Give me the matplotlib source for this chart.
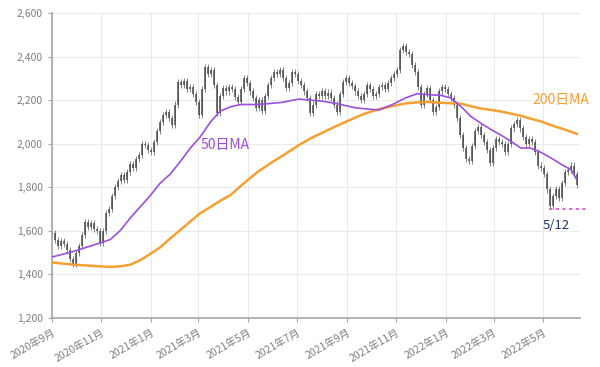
import numpy as np
import pandas as pd
import matplotlib
matplotlib.use("Agg")
import matplotlib.pyplot as plt
import matplotlib.dates as mdates
from matplotlib.ticker import StrMethodFormatter

plt.rcParams["font.family"] = ["Noto Sans CJK JP", "DejaVu Sans"]

close = [1590, 1560, 1530, 1555, 1540, 1510, 1470, 1450, 1500, 1530, 1580, 1640,
         1620, 1635, 1610, 1600, 1545, 1600, 1680, 1700, 1760, 1800, 1830, 1855,
         1835, 1870, 1905, 1890, 1930, 1950, 2000, 1995, 1970, 1960, 2010, 2060,
         2100, 2130, 2145, 2120, 2085, 2180, 2285, 2270, 2290, 2250, 2260, 2230,
         2190, 2130, 2250, 2350, 2320, 2340, 2270, 2140, 2220, 2255, 2240, 2260,
         2250, 2215, 2190, 2250, 2300, 2280, 2240, 2210, 2165, 2200, 2150, 2220,
         2270, 2300, 2330, 2320, 2340, 2300, 2255, 2280, 2330, 2320, 2290, 2270,
         2240, 2210, 2140, 2180, 2230, 2220, 2240, 2220, 2235, 2210, 2180, 2145,
         2230, 2285, 2300, 2280, 2265, 2240, 2220, 2200, 2230, 2270, 2250, 2220,
         2230, 2260, 2270, 2250, 2280, 2300, 2320, 2340, 2430, 2450, 2420, 2410,
         2360, 2330, 2260, 2180, 2230, 2255, 2200, 2145, 2170, 2240, 2260, 2250,
         2230, 2210, 2180, 2120, 2040, 1980, 1930, 1920, 1990, 2060, 2075, 2040,
         2010, 1970, 1910, 1980, 2020, 2010, 2000, 1960, 2000, 2070, 2090, 2110,
         2070, 2030, 2000, 2020, 2010, 1960, 1900, 1890, 1860, 1790, 1715, 1760,
         1790, 1750, 1820, 1870, 1880, 1900, 1860, 1810]
price_start = "2020-09-01"
price_end = "2022-06-12"
wick = 14  # typical wick length beyond the body

# moving averages
ma_dates = ["2020-09-01", "2020-09-27", "2020-10-18", "2020-10-31", "2020-11-12",
            "2020-11-24", "2020-12-07", "2020-12-19", "2020-12-31", "2021-01-13",
            "2021-01-25", "2021-02-07", "2021-02-19", "2021-03-03", "2021-03-16",
            "2021-03-28", "2021-04-10", "2021-04-22", "2021-05-13", "2021-05-29",
            "2021-06-13", "2021-07-03", "2021-07-18", "2021-08-02", "2021-08-18",
            "2021-08-30", "2021-09-11", "2021-09-24", "2021-10-10", "2021-10-27",
            "2021-11-12", "2021-11-27", "2021-12-11", "2021-12-26", "2022-01-07",
            "2022-01-20", "2022-02-01", "2022-02-13", "2022-02-26", "2022-03-10",
            "2022-03-23", "2022-04-04", "2022-04-16", "2022-04-29", "2022-05-11",
            "2022-05-24", "2022-06-05", "2022-06-12"]
ma50 = [1480, 1505, 1530, 1545, 1560, 1600, 1660, 1710, 1760, 1820, 1860, 1920,
        1980, 2030, 2100, 2150, 2170, 2180, 2180, 2185, 2190, 2205, 2200, 2195,
        2185, 2175, 2165, 2160, 2155, 2180, 2210, 2230, 2225, 2222, 2210, 2170,
        2125, 2095, 2065, 2040, 2010, 1980, 1980, 1960, 1935, 1905, 1880, 1835]
ma200 = [1455, 1445, 1440, 1437, 1435, 1437, 1445, 1465, 1493, 1525, 1565, 1605,
         1643, 1680, 1710, 1738, 1765, 1805, 1870, 1910, 1945, 1993, 2025, 2052,
         2080, 2100, 2120, 2140, 2158, 2173, 2185, 2190, 2192, 2188, 2186, 2184,
         2172, 2162, 2155, 2148, 2138, 2128, 2115, 2102, 2085, 2070, 2055, 2045]

low_value = 1700
low_label = "5/12"

fig = plt.figure(figsize=(6, 3.67), dpi=100)
ax = fig.add_axes([0.0867, 0.1335, 0.88, 0.831])

# candles: open = previous close
close = np.array(close, dtype=float)
dates = pd.date_range(price_start, price_end, periods=len(close))
opens = np.r_[close[0], close[:-1]]
lo = np.minimum(opens, close)
hi = np.maximum(opens, close)
ax.vlines(dates, lo - wick, hi + wick, color="#6E6E6E", linewidth=0.6, zorder=2)
ax.vlines(dates, lo, hi, color="#4A4A4A", linewidth=1.1, zorder=2)

md = pd.to_datetime(ma_dates)
ax.plot(md, ma200, color="#F5A032", linewidth=1.8, zorder=3)
ax.plot(md, ma50, color="#9B50DC", linewidth=1.2, zorder=4)

ax.text(pd.Timestamp("2021-04-03"), 1995, "50日MA", color="#9B50DC",
        fontsize=10, ha="center", va="center")
ax.text(pd.Timestamp("2022-05-23"), 2200, "200日MA", color="#F5A032",
        fontsize=10, ha="center", va="center")

# 5/12 low line
ax.plot([pd.Timestamp("2022-05-09"), pd.Timestamp("2022-06-24")], [low_value, low_value],
        color="#DC50DC", linestyle=(0, (2, 2)), linewidth=1.2, clip_on=False, zorder=5)
ax.text(pd.Timestamp("2022-05-18"), 1625, low_label, color="#1F3864",
        fontsize=9.5, ha="center", va="center")

ax.set_ylim(1200, 2600)
ax.set_yticks(np.arange(1200, 2601, 200))
ax.yaxis.set_major_formatter(StrMethodFormatter("{x:,.0f}"))
ax.set_xlim(pd.Timestamp("2020-09-01"), pd.Timestamp("2022-06-16"))
ax.xaxis.set_major_locator(mdates.MonthLocator(bymonth=[1, 3, 5, 7, 9, 11]))
ax.xaxis.set_major_formatter(mdates.DateFormatter("%Y年%-m月"))
for lbl in ax.get_xticklabels():
    lbl.set_rotation(30)
    lbl.set_ha("right")
    lbl.set_rotation_mode("anchor")

ax.grid(True, color="#EAEAEA", linewidth=0.8)
ax.set_axisbelow(True)
for s in ["top", "right"]:
    ax.spines[s].set_visible(False)
for s in ["left", "bottom"]:
    ax.spines[s].set_color("#A6A6A6")
    ax.spines[s].set_linewidth(1.2)
ax.tick_params(colors="#A6A6A6", labelcolor="#7F7F7F", labelsize=7.5, length=3)

fig.savefig("out.png", dpi=100)
